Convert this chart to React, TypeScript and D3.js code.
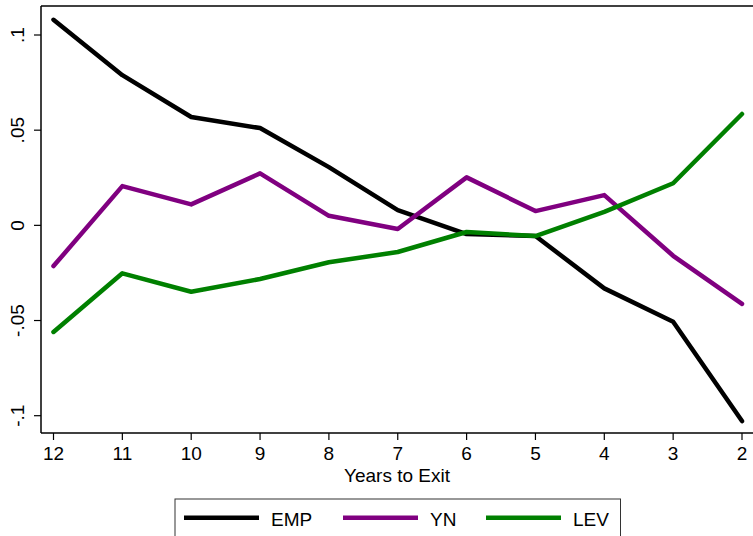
import { useEffect, useRef } from "react";
import * as d3 from "d3";

const years: number[] = [12, 11, 10, 9, 8, 7, 6, 5, 4, 3, 2];
const emp: number[] = [0.108, 0.0789, 0.0569, 0.0511, 0.0306, 0.008, -0.0046, -0.0056, -0.0331, -0.0506, -0.1028];
const yn: number[] = [-0.0214, 0.0206, 0.011, 0.0273, 0.005, -0.0019, 0.0252, 0.0075, 0.0159, -0.016, -0.0413];
const lev: number[] = [-0.056, -0.0252, -0.0349, -0.0282, -0.0194, -0.014, -0.0035, -0.0056, 0.0071, 0.0221, 0.0585];
const yTicks: number[] = [-0.1, -0.05, 0, 0.05, 0.1];
const yTickLabels: string[] = ["-.1", "-.05", "0", ".05", ".1"];
const seriesNames: string[] = ["EMP", "YN", "LEV"];
const seriesColors: string[] = ["#000000", "#800080", "#008000"];

function App() {
  const svgRef = useRef<SVGSVGElement>(null);

  useEffect(() => {
    if (!svgRef.current) return;
    const svg = d3.select(svgRef.current);
    svg.selectAll("*").remove();

    const width = 753;
    const height = 536;
    svg.attr("width", width).attr("height", height);

    const font = "Liberation Sans, Arial, sans-serif";
    const left = 41;
    const top = 6;
    const bottom = 433;

    const x = d3.scaleLinear().domain([12, 2]).range([53.5, 742]);
    const y = d3.scaleLinear().domain([-0.1, 0.1]).range([415.7, 35]);

    // frame: left, top and bottom (right side is cut off)
    svg.append("line").attr("x1", left).attr("x2", width).attr("y1", top).attr("y2", top)
      .attr("stroke", "#000").attr("stroke-width", 1.5);
    svg.append("line").attr("x1", left).attr("x2", left).attr("y1", top).attr("y2", bottom)
      .attr("stroke", "#000").attr("stroke-width", 1.5);
    svg.append("line").attr("x1", left).attr("x2", width).attr("y1", bottom).attr("y2", bottom)
      .attr("stroke", "#000").attr("stroke-width", 1.5);

    // y ticks
    const yt = svg.append("g");
    yt.selectAll("line").data(yTicks).join("line")
      .attr("x1", 34).attr("x2", left)
      .attr("y1", (d) => y(d)).attr("y2", (d) => y(d))
      .attr("stroke", "#000").attr("stroke-width", 1.2);
    yt.selectAll("text").data(yTicks).join("text")
      .attr("transform", (d) => `translate(24,${y(d)}) rotate(-90)`)
      .attr("text-anchor", "middle")
      .attr("font-family", font).attr("font-size", 19)
      .text((_, i) => yTickLabels[i]);

    // x ticks
    const xt = svg.append("g");
    xt.selectAll("line").data(years).join("line")
      .attr("x1", (d) => x(d)).attr("x2", (d) => x(d))
      .attr("y1", bottom).attr("y2", bottom + 7)
      .attr("stroke", "#000").attr("stroke-width", 1.2);
    xt.selectAll("text").data(years).join("text")
      .attr("x", (d) => x(d)).attr("y", 460)
      .attr("text-anchor", "middle")
      .attr("font-family", font).attr("font-size", 19)
      .text((d) => d);

    svg.append("text").attr("x", 397).attr("y", 482)
      .attr("text-anchor", "middle")
      .attr("font-family", font).attr("font-size", 19)
      .text("Years to Exit");

    // lines
    const allSeries = [emp, yn, lev];
    const line = d3.line<number>()
      .x((_, i) => x(years[i]))
      .y((d) => y(d));
    allSeries.forEach((s, k) => {
      svg.append("path").datum(s)
        .attr("d", line)
        .attr("fill", "none")
        .attr("stroke", seriesColors[k])
        .attr("stroke-width", 4.5)
        .attr("stroke-linejoin", "round")
        .attr("stroke-linecap", "round");
    });

    // legend
    const lg = svg.append("g");
    lg.append("rect").attr("x", 175).attr("y", 499).attr("width", 445.5).attr("height", 45)
      .attr("fill", "#fff").attr("stroke", "#333").attr("stroke-width", 1);
    const legendX = [184, 343, 486];
    seriesNames.forEach((name, k) => {
      lg.append("line").attr("x1", legendX[k]).attr("x2", legendX[k] + 75)
        .attr("y1", 517.7).attr("y2", 517.7)
        .attr("stroke", seriesColors[k]).attr("stroke-width", 4.5);
      lg.append("text").attr("x", legendX[k] + 87).attr("y", 526)
        .attr("font-family", font).attr("font-size", 19)
        .text(name);
    });
  }, []);

  return <svg ref={svgRef} style={{ position: "absolute", left: 0, top: 0 }}></svg>;
}

export default App;
